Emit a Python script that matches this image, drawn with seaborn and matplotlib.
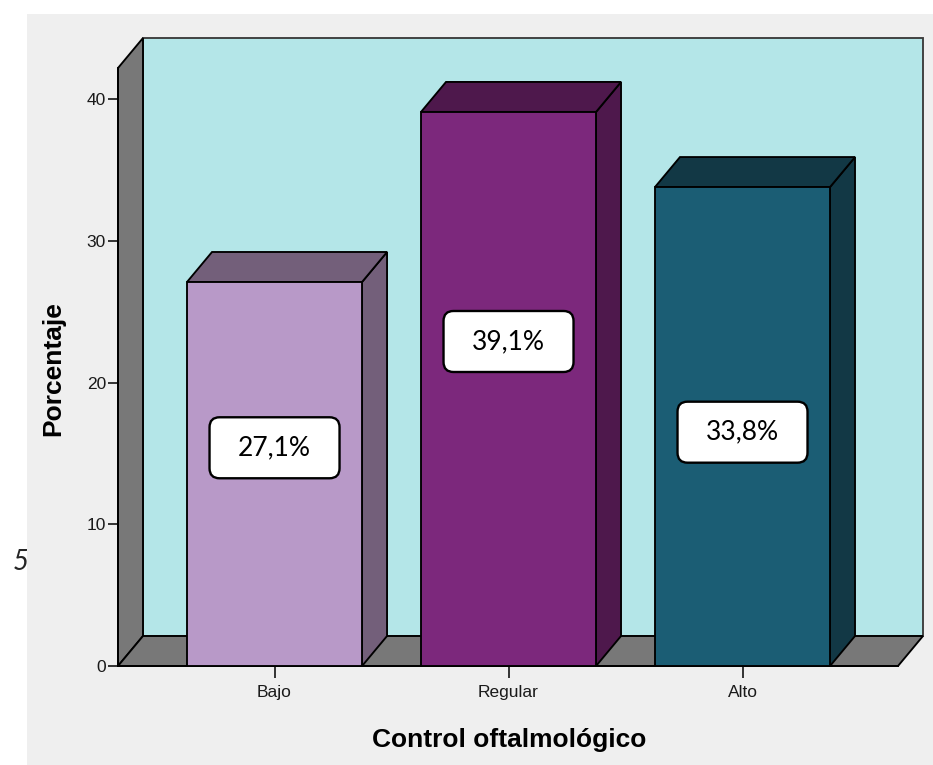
import pandas as pd
import seaborn as sns
import matplotlib.pyplot as plt
from matplotlib.patches import Polygon, Rectangle, FancyBboxPatch
from matplotlib.transforms import ScaledTranslation

# ---- data -------------------------------------------------------------
categories = ["Bajo", "Regular", "Alto"]
percentages = [27.1, 39.1, 33.8]
value_labels = ["27,1%", "39,1%", "33,8%"]
y_ticks = [0, 10, 20, 30, 40]

# ---- styling ----------------------------------------------------------
front_colors = ["#b899c8", "#7c287c", "#1b5d74"]
shade_colors = ["#735f7a", "#4e184c", "#123845"]
label_heights = [15.4, 22.9, 16.5]   # vertical placement of the value boxes
wall_color = "#b4e6e8"
side_color = "#787878"
panel_color = "#efefef"
edge_lw = 1.35

sns.set_theme(style="white")
plt.rcParams["font.family"] = ["Liberation Sans", "DejaVu Sans"]

fig = plt.figure(figsize=(9.33, 7.65), dpi=100, facecolor="white")
W, H = 933, 765

# grey chart panel and the stray caption digit partly hidden under it
fig.add_artist(Rectangle((27 / W, 0), 1, 751 / H, transform=fig.transFigure,
                         facecolor=panel_color, edgecolor="none", zorder=-1))
fig.text(13 / W, 1 - 562 / H, "5", fontsize=20, style="italic",
         family=["Lato", "DejaVu Sans"], va="center", ha="left", zorder=-2)

ax = fig.add_axes([118 / W, (H - 666) / H, 780 / W, 598 / H])
ax.patch.set_visible(False)

df = pd.DataFrame({"Control": categories, "Porcentaje": percentages})
sns.barplot(data=df, x="Control", y="Porcentaje", hue="Control",
            order=categories, hue_order=categories, palette=front_colors,
            saturation=1, width=0.748, edgecolor="black", linewidth=edge_lw,
            legend=False, ax=ax, zorder=3)

ax.set_xlim(-0.669, 2.6645)
ax.set_ylim(0, 42.2)
ax.set_yticks(y_ticks)

# depth of the 3-D extrusion, in data units
dx, dy = 0.1068, 2.116
x0, x1 = ax.get_xlim()
ytop = ax.get_ylim()[1]

# back wall, left wall and floor
ax.add_patch(Rectangle((x0 + dx, dy), x1 - x0, ytop, facecolor=wall_color,
                       edgecolor="#3c3c3c", lw=edge_lw, clip_on=False, zorder=0.5))
ax.add_patch(Polygon([(x0, 0), (x0 + dx, dy), (x0 + dx, ytop + dy), (x0, ytop)],
                     facecolor=side_color, edgecolor="black", lw=edge_lw,
                     clip_on=False, zorder=0.6))
ax.add_patch(Polygon([(x0, 0), (x1, 0), (x1 + dx, dy), (x0 + dx, dy)],
                     facecolor=side_color, edgecolor="black", lw=edge_lw,
                     clip_on=False, zorder=0.6))

# side and top faces of each bar
bars = sorted([p for p in ax.patches if isinstance(p, Rectangle) and p.get_zorder() == 3],
              key=lambda p: p.get_x())
for bar, shade, text, ly in zip(bars, shade_colors, value_labels, label_heights):
    bx, w, h = bar.get_x(), bar.get_width(), bar.get_height()
    ax.add_patch(Polygon([(bx + w, 0), (bx + w + dx, dy), (bx + w + dx, h + dy), (bx + w, h)],
                         facecolor=shade, edgecolor="black", lw=edge_lw,
                         clip_on=False, zorder=2.9))
    ax.add_patch(Polygon([(bx, h), (bx + w, h), (bx + w + dx, h + dy), (bx + dx, h + dy)],
                         facecolor=shade, edgecolor="black", lw=edge_lw,
                         clip_on=False, zorder=2.9))
    cx = bx + w / 2
    box_tr = fig.dpi_scale_trans + ScaledTranslation(cx, ly, ax.transData)
    ax.add_artist(FancyBboxPatch((-0.65, -0.305), 1.30, 0.61,
                                 boxstyle="round,pad=0,rounding_size=0.1",
                                 transform=box_tr, facecolor="white",
                                 edgecolor="black", lw=1.7, clip_on=False, zorder=4))
    ax.text(cx, ly, text, ha="center", va="center", fontsize=19,
            family=["Lato", "DejaVu Sans"], color="black", zorder=5)

# axes frame, ticks and labels
for side in ("top", "right"):
    ax.spines[side].set_visible(False)
for side in ("left", "bottom"):
    ax.spines[side].set_color("black")
    ax.spines[side].set_linewidth(edge_lw)
    ax.spines[side].set_zorder(2.8)

ax.tick_params(axis="y", left=True, length=7.2, width=1.1, color="black",
               pad=1.5, labelsize=12.5, labelcolor="#1a1a1a")
ax.tick_params(axis="x", bottom=True, length=8.6, width=1.1, color="black",
               pad=5, labelsize=12.5, labelcolor="#1a1a1a")

ax.set_xlabel("Control oftalmológico", fontsize=19, fontweight="bold", color="black")
ax.xaxis.set_label_coords(0.501, -0.1237)
ax.xaxis.label.set_va("center")
ax.set_ylabel("Porcentaje", fontsize=19, fontweight="bold", color="black")
ax.yaxis.set_label_coords(-0.0833, 0.498)
ax.yaxis.label.set_va("center")

fig.savefig("out.png", dpi=100, facecolor="white")
